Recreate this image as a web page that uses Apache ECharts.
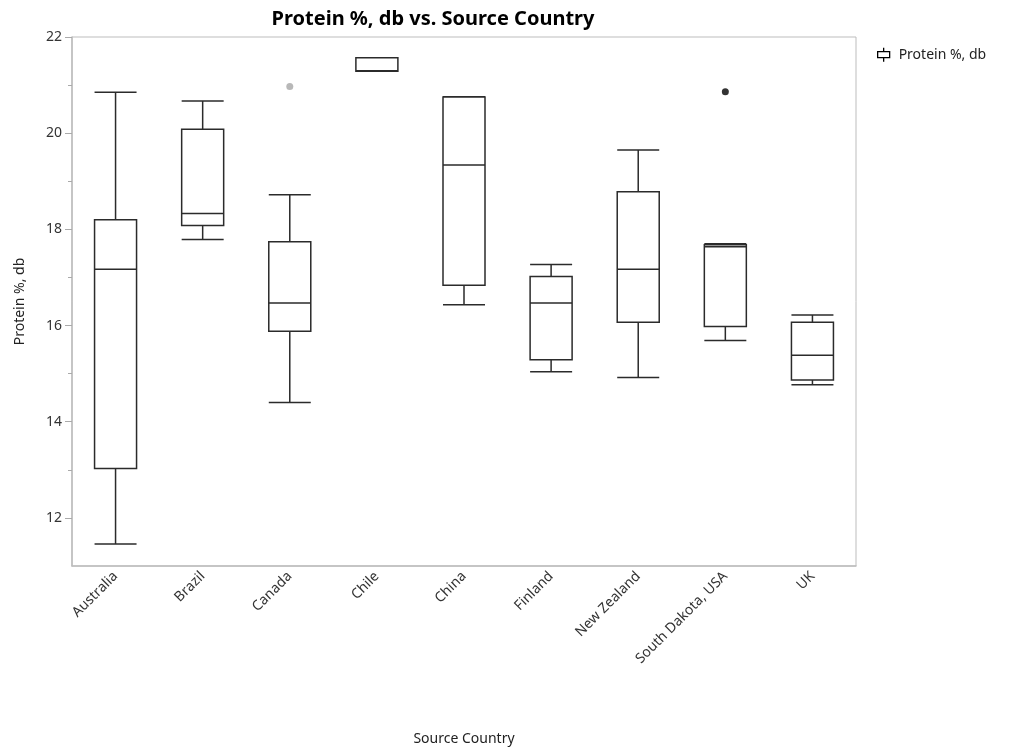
<!DOCTYPE html>
<html>
<head>
<meta charset="utf-8">
<script src="https://cdn.jsdelivr.net/npm/echarts@6/dist/echarts.min.js"></script>
<style>
html,body{margin:0;padding:0;background:#fff;}
#chart{width:1010px;height:750px;}
</style>
</head>
<body>
<div id="chart"></div>
<script>
const categories = ['Australia','Brazil','Canada','Chile','China','Finland','New Zealand','South Dakota, USA','UK'];
const lowerWhisker = [11.46, 17.79, 14.40, 21.29, 16.43, 15.04, 14.92, 15.69, 14.77];
const q1Values     = [13.03, 18.08, 15.88, 21.29, 16.84, 15.29, 16.07, 15.98, 14.87];
const medianValues = [17.17, 18.33, 16.47, 21.30, 19.34, 16.47, 17.17, 17.64, 15.38];
const q3Values     = [18.20, 20.08, 17.74, 21.57, 20.75, 17.02, 18.78, 17.68, 16.07];
const upperWhisker = [20.85, 20.67, 18.72, 21.57, 20.76, 17.27, 19.65, 17.70, 16.22];
const outlierCountries = ['Canada', 'South Dakota, USA'];
const outlierValues = [20.97, 20.86];
const yMajorTicks = [12, 14, 16, 18, 20, 22];
const yMinorTicks = [13, 15, 17, 19, 21];

const outlierColors = ['#a6a6a6', '#000000'];
const font = '"Noto Sans", "Open Sans", sans-serif';

const boxData = categories.map((c, i) => [lowerWhisker[i], q1Values[i], medianValues[i], q3Values[i], upperWhisker[i]]);
const outlierData = outlierCountries.map((c, i) => ({
  value: [c, outlierValues[i]],
  itemStyle: { color: outlierColors[i] }
}));

const chart = echarts.init(document.getElementById('chart'), null, { renderer: 'canvas' });
chart.setOption({
  animation: false,
  backgroundColor: '#fff',
  title: {
    text: 'Protein %, db vs. Source Country',
    left: 428,
    top: 4,
    textAlign: 'center',
    textStyle: { fontFamily: font, fontSize: 20, fontWeight: 'bold', color: '#000' }
  },
  legend: {
    data: ['Protein %, db'],
    left: 872,
    top: 42,
    itemWidth: 12,
    itemHeight: 14,
    icon: 'path://M6,0L6,4M0,4L12,4L12,10L0,10ZM6,10L6,14',
    itemStyle: { color: '#fff', borderColor: '#000', borderWidth: 1.3 },
    textStyle: { fontFamily: font, fontSize: 14, color: '#222', padding: [0, 0, 0, 4] }
  },
  grid: { left: 72, top: 37, right: 154, bottom: 184, outerBoundsMode: 'none', containLabel: false, show: true, borderColor: '#bdbdbd', borderWidth: 1 },
  xAxis: {
    type: 'category',
    data: categories,
    boundaryGap: true,
    name: 'Source Country',
    nameLocation: 'middle',
    nameGap: 166,
    nameTextStyle: { fontFamily: font, fontSize: 14, color: '#222' },
    axisLine: { lineStyle: { color: '#bdbdbd', width: 1.5 } },
    axisTick: { show: false },
    axisLabel: { rotate: 45, fontFamily: font, fontSize: 14, color: '#333', margin: 8 },
    splitLine: { show: false }
  },
  yAxis: [{
    type: 'value',
    min: 11,
    max: 22,
    interval: 1,
    name: 'Protein %, db',
    nameLocation: 'middle',
    nameGap: 45,
    nameTextStyle: { fontFamily: font, fontSize: 14, color: '#222' },
    axisLine: { show: true, lineStyle: { color: '#bdbdbd', width: 1.5 } },
    axisTick: { show: true, length: 7, customValues: yMajorTicks, lineStyle: { color: '#aaa' } },
    axisLabel: { customValues: yMajorTicks, fontFamily: font, fontSize: 14, color: '#333', margin: 10 },
    splitLine: { show: false }
  }, {
    type: 'value',
    position: 'left',
    min: 11,
    max: 22,
    interval: 1,
    axisLine: { show: false },
    axisTick: { show: true, length: 4, customValues: yMinorTicks, lineStyle: { color: '#aaa' } },
    axisLabel: { show: false },
    splitLine: { show: false }
  }],
  series: [{
    name: 'Protein %, db',
    type: 'boxplot',
    data: boxData,
    boxWidth: [42, 42],
    itemStyle: { color: '#fff', borderColor: '#2b2b2b', borderWidth: 1.5 },
    emphasis: { disabled: true }
  }, {
    name: 'Outliers',
    type: 'scatter',
    data: outlierData,
    symbolSize: 7,
    z: 5
  }]
});
</script>
</body>
</html>
